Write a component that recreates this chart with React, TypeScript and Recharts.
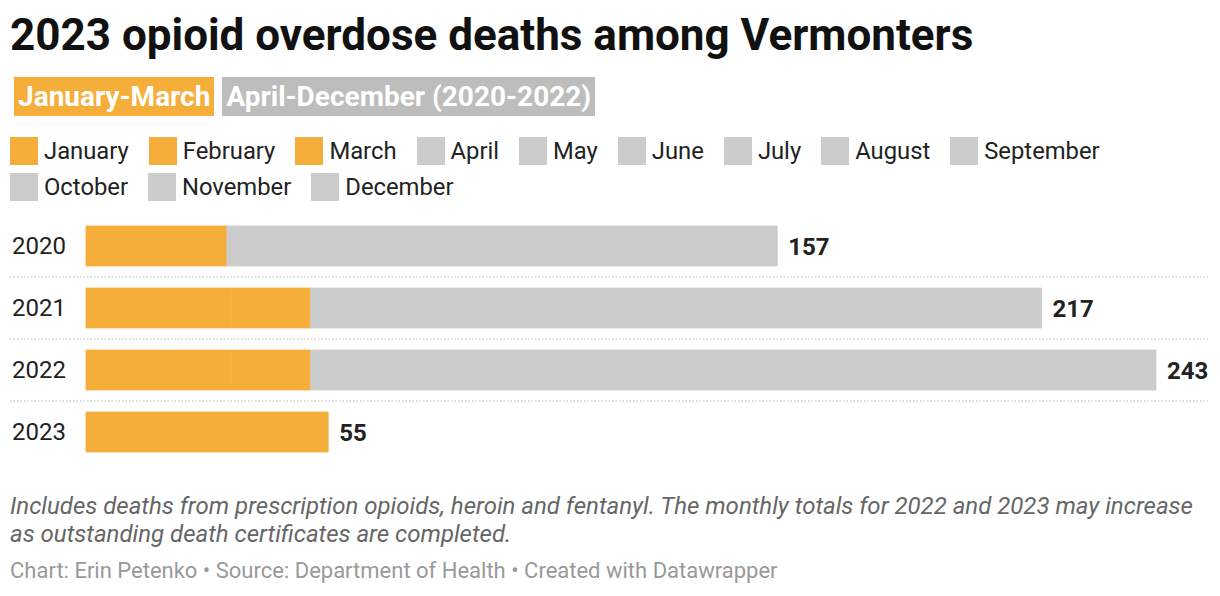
import { BarChart, Bar, XAxis, YAxis, LabelList } from 'recharts';

// monthly opioid overdose deaths (split is estimated; totals read from labels)
const years = ['2020', '2021', '2022', '2023'];
const months = [
  'January', 'February', 'March', 'April', 'May', 'June',
  'July', 'August', 'September', 'October', 'November', 'December',
];
const deaths2020 = [11, 10, 11, 14, 15, 13, 16, 14, 13, 15, 12, 13];
const deaths2021 = [17, 16, 18, 18, 19, 17, 20, 21, 18, 17, 19, 17];
const deaths2022 = [18, 15, 18, 22, 20, 23, 21, 19, 24, 22, 20, 21];
const deaths2023 = [19, 17, 19, 0, 0, 0, 0, 0, 0, 0, 0, 0];

const ORANGE = '#f6ae3b';
const GREY = '#cccccc';
const FONT = 'Roboto, "Noto Sans", sans-serif';

const rows = [deaths2020, deaths2021, deaths2022, deaths2023];
const data = years.map((year, i) => {
  const row: Record<string, number | string | undefined> = { year };
  months.forEach((m, j) => {
    row[m] = rows[i][j];
  });
  const total = rows[i].reduce((a, b) => a + b, 0);
  const q1 = rows[i][0] + rows[i][1] + rows[i][2];
  // label goes after the last segment that is drawn
  row.labelQ1 = total === q1 ? total : undefined;
  row.labelEnd = total === q1 ? undefined : total;
  return row;
});

const colorFor = (i: number) => (i < 3 ? ORANGE : GREY);

function YearTick(props: any) {
  const { y, payload, index } = props;
  return (
    <g>
      <text x={12} y={y} dy={8} fontSize={24} fill="#222" fontFamily={FONT}>
        {payload.value}
      </text>
      {index < years.length - 1 && (
        <line
          x1={10}
          x2={1208}
          y1={y + 31}
          y2={y + 31}
          stroke="#cfcfcf"
          strokeWidth={1.5}
          strokeDasharray="1.5 2"
        />
      )}
    </g>
  );
}

const labelProps = {
  position: 'right' as const,
  offset: 11,
  fill: '#222',
  fontSize: 24,
  fontWeight: 700,
  fontFamily: FONT,
};

export default function App() {
  return (
    <div style={{ position: 'relative', width: 1220, height: 596, fontFamily: FONT, background: '#fff' }}>
      <style>{'body{margin:0}'}</style>
      <div
        style={{
          position: 'absolute',
          left: 10,
          top: 10,
          fontSize: 44,
          fontWeight: 700,
          color: '#111',
          lineHeight: '50px',
          whiteSpace: 'nowrap',
        }}
      >
        2023 opioid overdose deaths among Vermonters
      </div>
      <div style={{ position: 'absolute', left: 14, top: 77, display: 'flex', gap: 8 }}>
        <span
          style={{
            background: ORANGE,
            color: '#fff',
            fontWeight: 700,
            fontSize: 28,
            lineHeight: '39px',
            padding: '0 4px',
          }}
        >
          January-March
        </span>
        <span
          style={{
            background: '#bdbdbd',
            color: '#fff',
            fontWeight: 700,
            fontSize: 28,
            lineHeight: '39px',
            padding: '0 4px',
          }}
        >
          April-December (2020-2022)
        </span>
      </div>
      <div
        style={{
          position: 'absolute',
          left: 10,
          top: 136,
          width: 1180,
          display: 'flex',
          flexWrap: 'wrap',
          columnGap: 20,
          rowGap: 7,
        }}
      >
        {months.map((m, i) => (
          <div key={m} style={{ display: 'flex', alignItems: 'center', height: 29 }}>
            <span style={{ width: 28, height: 28, background: colorFor(i), marginRight: 6 }} />
            <span style={{ fontSize: 23.8, color: '#222' }}>{m}</span>
          </div>
        ))}
      </div>
      <div style={{ position: 'absolute', left: 0, top: 205 }}>
        <BarChart
          width={1220}
          height={268}
          data={data}
          layout="vertical"
          margin={{ top: 10, right: 64, bottom: 10, left: 10 }}
          barCategoryGap={11}
        >
          <XAxis type="number" hide domain={[0, 243]} />
          <YAxis
            type="category"
            dataKey="year"
            width={76}
            axisLine={false}
            tickLine={false}
            tick={<YearTick />}
            interval={0}
          />
          {months.map((m, i) => (
            <Bar
              key={m}
              dataKey={m}
              stackId="a"
              fill={colorFor(i)}
              stroke={colorFor(i)}
              strokeWidth={0.8}
              isAnimationActive={false}
            >
              {i === 2 && <LabelList dataKey="labelQ1" {...labelProps} />}
              {i === months.length - 1 && <LabelList dataKey="labelEnd" {...labelProps} />}
            </Bar>
          ))}
        </BarChart>
      </div>
      <div
        style={{
          position: 'absolute',
          left: 10,
          top: 492,
          width: 1200,
          fontSize: 24,
          fontStyle: 'italic',
          color: '#666',
          lineHeight: '28px',
        }}
      >
        Includes deaths from prescription opioids, heroin and fentanyl. The monthly totals for 2022 and 2023 may
        increase as outstanding death certificates are completed.
      </div>
      <div style={{ position: 'absolute', left: 10, top: 558, fontSize: 22, color: '#999', lineHeight: '26px' }}>
        Chart: Erin Petenko • Source: Department of Health • Created with Datawrapper
      </div>
    </div>
  );
}
